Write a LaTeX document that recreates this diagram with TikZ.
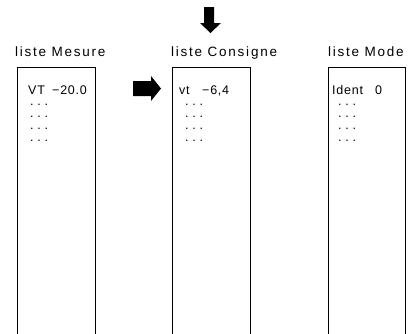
\documentclass[tikz,border=0pt]{standalone}
\usepackage{fontspec}
\setmainfont{Liberation Sans}
\newfontfamily\labelfont[LetterSpace=13]{Liberation Sans}
\newfontfamily\cellfont[LetterSpace=6]{Liberation Sans}
\newfontfamily\dotfont[LetterSpace=30]{Liberation Sans}
\begin{document}
\begin{tikzpicture}[x=1pt,y=-1pt,
  title/.style={anchor=base west,inner sep=0pt,font=\labelfont\fontsize{13.5}{15}\selectfont},
  cell/.style={anchor=base west,inner sep=0pt,font=\cellfont\fontsize{12.5}{14}\selectfont},
  ellipsis/.style={anchor=base west,inner sep=0pt,font=\dotfont\fontsize{12.5}{14}\selectfont},
  listbox/.style={draw=black,line width=1pt},
  bigarrow/.style={fill=black,draw=none}]
\useasboundingbox (0,0) rectangle (420,333);
\fill[white] (0,0) rectangle (420,333);

% list titles
\node[title] (tMes) at (15,56) {liste Mesure};
\node[title] (tCon) at (171,56) {liste Consigne};
\node[title] (tMod) at (328,56) {liste Mode};

% open-bottomed list frames
\draw[listbox] (17,334) -- (17,67) -- (95,67) -- (95,334);
\draw[listbox] (172,334) -- (172,67) -- (250,67) -- (250,334);
\draw[listbox] (328,334) -- (328,67) -- (405,67) -- (405,334);

% first entries
\node[cell] (mesName) at (28,94) {VT};
\node[cell] (mesVal) at (52,94) {−20.0};
\node[cell] (conName) at (179,94) {vt};
\node[cell] (conVal) at (202,94) {−6,4};
\node[cell] (modName) at (332,94) {Ident};
\node[cell] (modVal) at (375,94) {0};

% remaining entries
\foreach \y [count=\i] in {105,117,129,141} {
  \node[ellipsis] (mesDots\i) at (30,\y) {...};
  \node[ellipsis] (conDots\i) at (185,\y) {...};
  \node[ellipsis] (modDots\i) at (338,\y) {...};
}

% block arrows
\fill[bigarrow] (133,81) -- (151,81) -- (151,76) -- (161,88.5) -- (151,101) -- (151,96) -- (133,96) -- cycle;
\fill[bigarrow] (204,7) -- (214,7) -- (214,23) -- (221,23) -- (210.5,33) -- (200,23) -- (204,23) -- cycle;
\end{tikzpicture}
\end{document}
